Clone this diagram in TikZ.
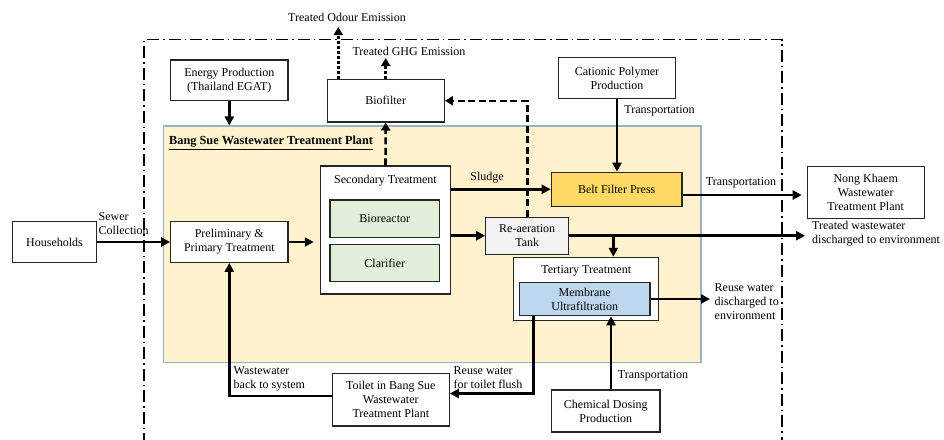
\documentclass[tikz,border=0pt]{standalone}
\usepackage{fontspec}
\setmainfont{Liberation Serif}
\usetikzlibrary{arrows.meta}
\definecolor{plantfill}{HTML}{FFF2CC}
\definecolor{plantdraw}{HTML}{9DB0C4}
\definecolor{beltfill}{HTML}{FFD966}
\definecolor{greenfill}{HTML}{E2EFDA}
\definecolor{bluefill}{HTML}{BDD7EE}
\definecolor{grayfill}{HTML}{F2F2F2}
\tikzset{
  box/.style={draw=black!85, line width=1.1pt, fill=white, align=center, inner sep=1pt},
  ibox/.style={draw=black!85, line width=1.3pt, align=center, inner sep=1pt},
  lbl/.style={align=left, inner sep=0pt, anchor=west},
  arr/.style={line width=2.8pt, -{Triangle[length=9pt,width=9pt]}},
  dotarr/.style={line width=2.8pt, dash pattern=on 3pt off 2pt, -{Triangle[length=8pt,width=9pt]}},
  dasharr/.style={line width=2.6pt, dash pattern=on 7pt off 3.5pt, -{Triangle[length=8pt,width=9pt]}},
  border/.style={line width=1.8pt, dash pattern=on 12pt off 4pt on 1.5pt off 4pt},
}
\begin{document}
\begin{tikzpicture}[x=1pt,y=-1pt,font=\fontsize{12}{14}\selectfont]
\useasboundingbox (0,0) rectangle (944,439);
% system boundary
\draw[border] (144,445) -- (144,39.5) -- (782,39.5) -- (782,445);
% plant
\node[draw=plantdraw, fill=plantfill, line width=1.1pt, minimum width=537.3pt, minimum height=236.7pt, inner sep=0pt] (plant) at (432.3,244.3) {};
\node[lbl, font=\fontsize{12.3}{14}\selectfont\bfseries] (title) at (169,143) {\underline{Bang Sue Wastewater Treatment Plant}};
% boxes
\node[box, minimum width=84.4pt, minimum height=40.6pt] (hh) at (54.5,242) {Households};
\node[box, minimum width=117.3pt, minimum height=40.7pt] (energy) at (229.3,80.3) {Energy Production\\(Thailand EGAT)};
\node[box, minimum width=117.3pt, minimum height=42.3pt] (bio) at (385.7,100.8) {Biofilter};
\node[box, minimum width=130.4pt, minimum height=128pt] (sec) at (385.5,230) {};
\node[inner sep=0pt] (sectitle) at (385.5,180.5) {Secondary Treatment};
\node[ibox, fill=greenfill, minimum width=109.7pt, minimum height=37.3pt] (bior) at (384.8,218.7) {Bioreactor};
\node[ibox, fill=greenfill, minimum width=109.7pt, minimum height=37.4pt] (clar) at (384.8,263) {Clarifier};
\node[ibox, fill=beltfill, minimum width=130.7pt, minimum height=34pt] (belt) at (616.7,189.3) {Belt Filter Press};
\node[box, minimum width=117.4pt, minimum height=41.4pt] (cat) at (617,78) {Cationic Polymer\\Production};
\node[box, minimum width=117.3pt, minimum height=52.3pt] (nong) at (865.7,192.2) {Nong Khaem\\Wastewater\\Treatment Plant};
\node[ibox, fill=grayfill, line width=1.1pt, minimum width=83pt, minimum height=36.7pt] (reaer) at (527.2,235.7) {Re-aeration\\Tank};
\node[box, minimum width=117.3pt, minimum height=40.6pt] (prelim) at (229.3,242) {Preliminary \&\\Primary Treatment};
\node[box, minimum width=145pt, minimum height=63pt] (tert) at (586.2,288.8) {};
\node[inner sep=0pt] (terttitle) at (586.2,271) {Tertiary Treatment};
\node[ibox, fill=bluefill, minimum width=130.7pt, minimum height=33.4pt] (memb) at (584.7,299) {Membrane\\Ultrafiltration};
\node[box, minimum width=108.3pt, minimum height=42pt] (chem) at (605.8,411) {Chemical Dosing\\Production};
\node[box, minimum width=117pt, minimum height=52.3pt] (toilet) at (390.8,399.8) {Toilet in Bang Sue\\Wastewater\\Treatment Plant};
% coordinates
\coordinate (odour) at (338.3,27);
\coordinate (ghg) at (385.7,58);
\coordinate (tnk) at (801.7,195);
\coordinate (tw) at (805,235.7);
\coordinate (jn) at (613.3,235.7);
\coordinate (re) at (710,299);
\coordinate (tf) at (533.3,393.5);
\coordinate (cd) at (611,0);
\coordinate (wb) at (229.3,396);
% connectors
\draw[arr] (hh) -- (prelim);
\draw[arr, shorten >=6pt] (prelim.east) -- (prelim.east -| sec.west);
\draw[arr] (energy.south) -- (energy.south |- plant.north);
\draw[dasharr] (sec.north) -- (bio.south);
\draw[dotarr] (odour |- bio.north) -- (odour);
\draw[dotarr] (bio.north) -- (ghg);
\draw[arr] (belt.west -| sec.east) -- (belt.west);
\draw[arr] (reaer.west -| sec.east) -- (reaer.west);
\draw[dasharr] (reaer.north) -- (reaer.north |- bio.east) -- (bio.east);
\draw[arr] (cat.south) -- (cat.south |- belt.north);
\draw[arr] (belt.east |- tnk) -- (tnk);
\draw[arr] (reaer.east) -- (tw);
\draw[arr] (jn) -- (jn |- tert.north);
\draw[arr] (memb.east) -- (re);
\draw[arr] (tf |- memb.south) -- (tf) -- (tf -| toilet.east);
\draw[arr] (cd |- chem.north) -- (cd |- memb.south);
\draw[arr] (wb -| toilet.west) -- (wb) -- (prelim.south);
% labels
\node[inner sep=0pt] (lodour) at (347,17) {Treated Odour Emission};
\node[inner sep=0pt] (lghg) at (409,51) {Treated GHG Emission};
\node[lbl] (lsewer) at (98.5,224) {Sewer\\Collection};
\node[inner sep=0pt] (lsludge) at (487,178) {Sludge};
\node[inner sep=0pt] (ltrans1) at (659.5,111) {Transportation};
\node[inner sep=0pt] (ltrans2) at (741,183) {Transportation};
\node[lbl] (ltw) at (812,233.5) {Treated wastewater\\discharged to environment};
\node[lbl] (lre) at (714.5,301.5) {Reuse water\\discharged to\\environment};
\node[lbl] (ltf) at (453.5,377.5) {Reuse water\\for toilet flush};
\node[inner sep=0pt] (ltrans3) at (653,376) {Transportation};
\node[lbl] (lwb) at (233.5,378.5) {Wastewater\\back to system};
\end{tikzpicture}
\end{document}
